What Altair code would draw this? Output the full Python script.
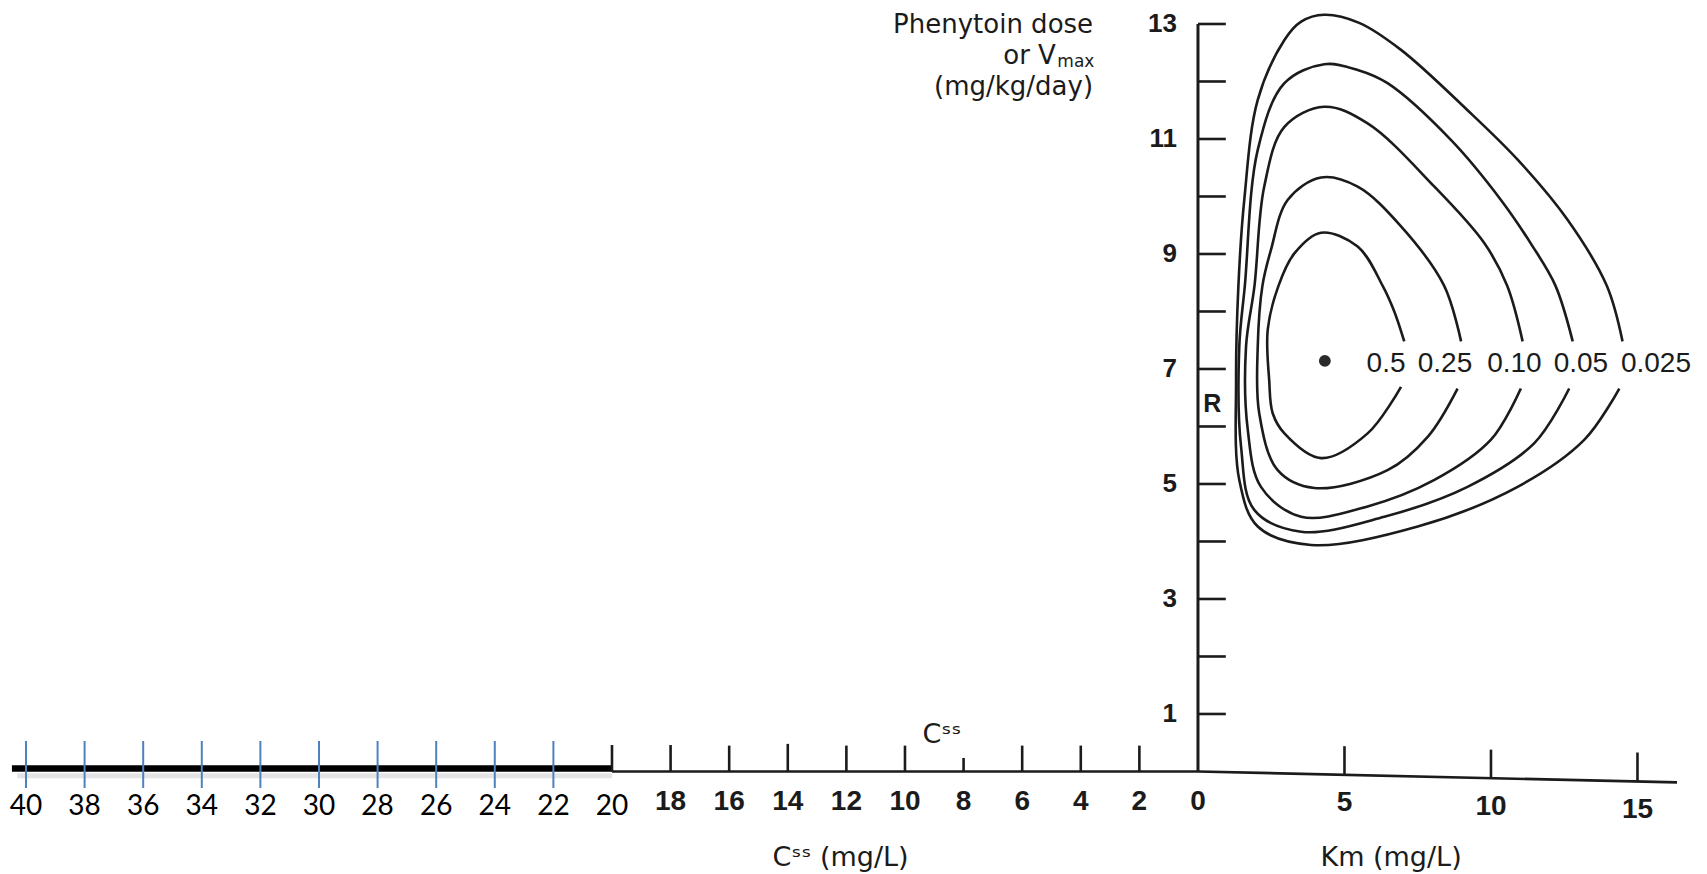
import altair as alt
import pandas as pd

# ---------------- data ----------------
# Css axis (drawn to the left of the origin, values increase leftwards)
css_ticks = [2, 4, 6, 8, 10, 12, 14, 16, 18, 20]
css_tick_top = [0.45, 0.45, 0.45, 0.235, 0.45, 0.45, 0.48, 0.45, 0.46, 0.46]
css_labels = [18, 16, 14, 12, 10, 8, 6, 4, 2, 0]
css_ext = [22, 24, 26, 28, 30, 32, 34, 36, 38, 40]
css_ext_labels = [20, 22, 24, 26, 28, 30, 32, 34, 36, 38, 40]
# Km axis (to the right of the origin); the scanned base line sags slightly
km_ticks = [5, 10, 15]
km_tick_base = [-0.06, -0.12, -0.17]
km_tick_top = [0.44, 0.38, 0.33]
km_label_v = [-0.55, -0.61, -0.67]
# base line of the Km / Css axis
base_x = [-20.0, 0.0, 16.35]
base_v = [0.0, 0.0, -0.19]
# Vmax axis
v_ticks = [1, 2, 3, 4, 5, 6, 7, 8, 9, 10, 11, 12, 13]
v_labels = [1, 3, 5, 7, 9, 11, 13]

# Probability contours (Km, Vmax), each drawn as an open path broken at its label
levels = ["0.5", "0.25", "0.10", "0.05", "0.025"]
c050_km = [7.04, 6.70, 6.30, 5.45, 4.20, 3.29, 2.75, 2.38, 2.43, 2.55, 2.95, 4.20, 5.79, 6.93]
c050_v = [7.48, 8.00, 8.45, 9.13, 9.37, 9.01, 8.45, 7.68, 6.81, 6.23, 5.88, 5.45, 5.88, 6.69]
c025_km = [8.98, 8.40, 6.93, 5.45, 4.20, 3.06, 2.49, 2.20, 2.04, 2.09, 2.72, 3.97, 6.47, 7.84, 8.86]
c025_v = [7.48, 8.45, 9.48, 10.17, 10.33, 9.94, 9.07, 8.45, 7.39, 6.23, 5.24, 4.93, 5.24, 5.82, 6.66]
c010_km = [11.08, 10.55, 9.77, 8.07, 5.79, 4.31, 2.95, 2.26, 1.93, 1.64, 1.70, 2.15, 3.52, 5.79, 8.07, 10.00, 11.02]
c010_v = [7.48, 8.45, 9.19, 10.17, 11.27, 11.56, 11.21, 10.17, 8.45, 7.39, 5.94, 4.95, 4.43, 4.61, 5.07, 5.77, 6.66]
c005_km = [12.79, 12.20, 11.40, 10.34, 8.64, 6.47, 5.45, 4.31, 2.95, 2.04, 1.60, 1.41, 1.47, 1.92, 3.52, 6.36, 9.20, 11.48, 12.67]
c005_v = [7.48, 8.45, 9.15, 9.94, 10.98, 11.97, 12.20, 12.30, 11.97, 10.81, 8.45, 7.39, 5.65, 4.55, 4.17, 4.43, 4.95, 5.71, 6.66]
c0025_km = [14.49, 13.95, 12.62, 10.91, 9.20, 6.93, 5.50, 4.31, 3.52, 2.95, 2.04, 1.58, 1.38, 1.30, 1.41, 2.04, 3.86, 7.50, 10.91, 13.19, 14.38]
c0025_v = [7.48, 8.45, 9.59, 10.64, 11.50, 12.55, 13.02, 13.16, 13.04, 12.72, 11.68, 9.94, 8.45, 6.81, 5.07, 4.26, 3.94, 4.26, 4.95, 5.77, 6.66]
contour_label_km = [6.42, 8.43, 10.80, 13.07, 15.63]
contour_label_v = 7.08

# population mean point
mean_km = [4.33]
mean_v = [7.14]

# ---------------- scales / layout ----------------
W, H = 1690, 866
XDOM = [-40.58, 17.10]
YDOM = [-1.783, 13.278]
xs = alt.Scale(domain=XDOM, nice=False, zero=False)
ys = alt.Scale(domain=YDOM, nice=False, zero=False)


def X(f):
    return alt.X(f, type="quantitative", scale=xs, axis=None)


def Y(f):
    return alt.Y(f, type="quantitative", scale=ys, axis=None)


INK = "#1b1b1b"

# axis lines
left_line = pd.DataFrame({"x": [-40.48], "x2": [-20.0], "y": [0.052]})
shadow_line = pd.DataFrame({"x": [-40.3], "x2": [-20.0], "y": [-0.075]})
vaxis = pd.DataFrame({"x": [0.0], "y": [0.0], "y2": [13.0]})
base_df = pd.DataFrame({"x": base_x, "v": base_v, "i": list(range(len(base_x)))})

shadow = alt.Chart(shadow_line).mark_rule(color="#c4c4c4", strokeWidth=5, opacity=0.45).encode(
    x=X("x"), x2="x2", y=Y("y"))
thick = alt.Chart(left_line).mark_rule(color="#000000", strokeWidth=6.5).encode(
    x=X("x"), x2="x2", y=Y("y"))
thin = alt.Chart(base_df).mark_line(color=INK, strokeWidth=2.6).encode(
    x=X("x"), y=Y("v"), order="i:Q")
vline = alt.Chart(vaxis).mark_rule(color=INK, strokeWidth=3).encode(
    x=X("x"), y=Y("y"), y2="y2")

# ticks
vt = pd.DataFrame({"v": v_ticks, "x0": [0.0] * len(v_ticks), "x1": [0.95] * len(v_ticks)})
vtick = alt.Chart(vt).mark_rule(color=INK, strokeWidth=2.6).encode(
    x=X("x0"), x2="x1", y=Y("v"))

ct = pd.DataFrame({"x": [-c for c in css_ticks] + km_ticks,
                   "y0": [0.0] * len(css_ticks) + km_tick_base,
                   "y1": css_tick_top + km_tick_top})
ctick = alt.Chart(ct).mark_rule(color=INK, strokeWidth=2.6).encode(
    x=X("x"), y=Y("y0"), y2="y1")

bt = pd.DataFrame({"x": [-c for c in css_ext], "y0": [-0.287] * len(css_ext),
                   "y1": [0.53] * len(css_ext)})
btick = alt.Chart(bt).mark_rule(color="#4F81BD", strokeWidth=2).encode(
    x=X("x"), y=Y("y0"), y2="y1")

# tick labels
bl = pd.DataFrame({"x": [-c for c in css_ext_labels], "t": [str(c) for c in css_ext_labels],
                   "y": [-0.617] * len(css_ext_labels)})
blab = alt.Chart(bl).mark_text(font="Lato", fontSize=28, color="#000000",
                               align="center", baseline="middle").encode(
    x=X("x"), y=Y("y"), text="t")

kl_vals = [-c for c in css_labels] + km_ticks
kl_text = [str(c) for c in css_labels] + [str(k) for k in km_ticks]
kl = pd.DataFrame({"x": kl_vals, "t": kl_text, "y": [-0.53] * len(css_labels) + km_label_v})
klab = alt.Chart(kl).mark_text(font="Liberation Sans Narrow, Liberation Sans", fontSize=28,
                               fontWeight="bold", color=INK,
                               align="center", baseline="middle").encode(
    x=X("x"), y=Y("y"), text="t")

vl = pd.DataFrame({"v": v_labels, "t": [str(v) for v in v_labels], "x": [0.0] * len(v_labels)})
vlab = alt.Chart(vl).mark_text(font="Liberation Sans", fontSize=26, fontWeight="bold",
                               color=INK, align="right", baseline="middle", dx=-21).encode(
    x=X("x"), y=Y("v"), text="t")

# contours
rows = []
for lev, kms, vs in zip(levels, [c050_km, c025_km, c010_km, c005_km, c0025_km],
                        [c050_v, c025_v, c010_v, c005_v, c0025_v]):
    for i, (k, v) in enumerate(zip(kms, vs)):
        rows.append({"level": lev, "i": i, "km": k, "v": v})
cdf = pd.DataFrame(rows)
contours = alt.Chart(cdf).mark_line(color=INK, strokeWidth=2.6, interpolate="catmull-rom").encode(
    x=X("km"), y=Y("v"), detail="level:N", order="i:Q")

cl = pd.DataFrame({"km": contour_label_km, "t": levels, "v": [contour_label_v] * len(levels)})
clab = alt.Chart(cl).mark_text(font="Liberation Sans", fontSize=28, color=INK,
                               align="center", baseline="middle").encode(
    x=X("km"), y=Y("v"), text="t")

dot = alt.Chart(pd.DataFrame({"km": mean_km, "v": mean_v})).mark_point(
    filled=True, shape="circle", size=140, color="#2a2a2a", opacity=1).encode(
    x=X("km"), y=Y("v"))

# annotations (data-space anchors)
title_df = pd.DataFrame({"x": [-3.58, -3.58], "y": [12.849, 11.765],
                         "t": ["Phenytoin dose", "(mg/kg/day)"]})
title = alt.Chart(title_df).mark_text(font="DejaVu Sans", fontSize=26, color=INK,
                                      align="right", baseline="alphabetic").encode(
    x=X("x"), y=Y("y"), text="t")
orv = alt.Chart(pd.DataFrame({"x": [-4.85], "y": [12.304], "t": ["or V"]})).mark_text(
    font="DejaVu Sans", fontSize=26, color=INK, align="right", baseline="alphabetic").encode(
    x=X("x"), y=Y("y"), text="t")
vmax_sub = alt.Chart(pd.DataFrame({"x": [-4.80], "y": [12.257], "t": ["max"]})).mark_text(
    font="DejaVu Sans", fontSize=17, color=INK, align="left", baseline="alphabetic").encode(
    x=X("x"), y=Y("y"), text="t")

r_lab = alt.Chart(pd.DataFrame({"x": [0.49], "y": [6.39], "t": ["R"]})).mark_text(
    font="Liberation Sans", fontSize=25, fontWeight="bold", color=INK,
    align="center", baseline="middle").encode(x=X("x"), y=Y("y"), text="t")

css_small = alt.Chart(pd.DataFrame({"x": [-8.74], "y": [0.635], "t": ["Cˢˢ"]})).mark_text(
    font="DejaVu Sans", fontSize=27, color=INK, align="center", baseline="middle").encode(
    x=X("x"), y=Y("y"), text="t")

axis_titles = pd.DataFrame({"x": [-12.2, 6.59], "y": [-1.64, -1.65],
                            "t": ["Cˢˢ (mg/L)", "Km (mg/L)"]})
atitle = alt.Chart(axis_titles).mark_text(font="DejaVu Sans", fontSize=27, color=INK,
                                          align="center", baseline="alphabetic").encode(
    x=X("x"), y=Y("y"), text="t")

chart = alt.layer(
    shadow, thick, thin, vline, vtick, ctick, btick,
    contours, dot,
    blab, klab, vlab, clab, title, orv, vmax_sub, r_lab, css_small, atitle,
).properties(width=W, height=H, padding=0, background="white").configure_view(stroke=None)

chart.save("out.html", embed_options={"renderer": "svg", "actions": False})
